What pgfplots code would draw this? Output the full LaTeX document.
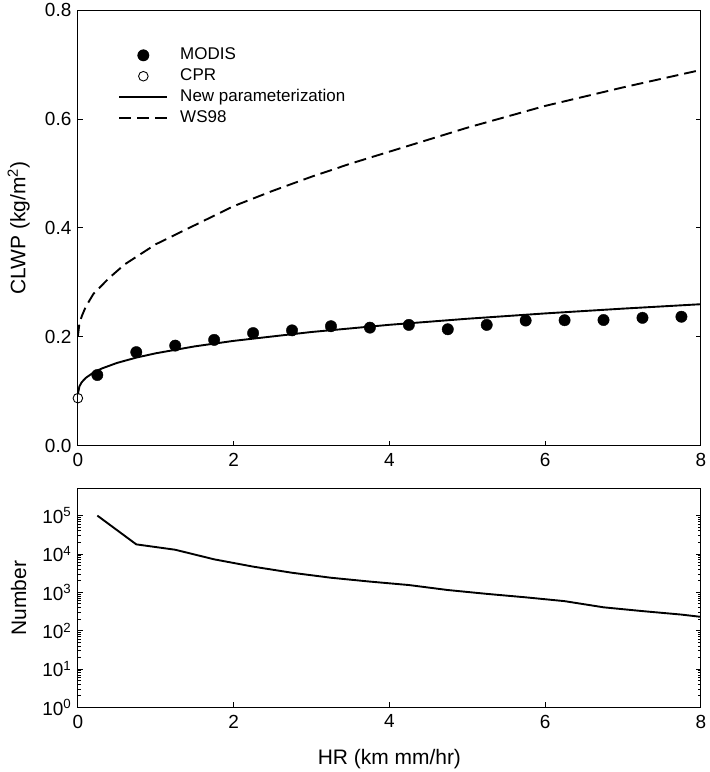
\documentclass[border=0pt]{standalone}
\usepackage{fontspec}
\setmainfont{Liberation Sans}
\usepackage{pgfplots}
\pgfplotsset{compat=1.18}
\pgfplotsset{
  linelegend/.style={legend image code/.code={\draw[##1] (0pt,0pt) -- (48pt,0pt); \path (58pt,0pt);}},
  marklegend/.style={legend image code/.code={\draw[mark repeat=2,mark phase=2,##1] plot coordinates {(0pt,0pt) (24pt,0pt) (48pt,0pt)}; \path (58pt,0pt);}},
}
\newcommand{\legfont}{\fontsize{17}{20}\selectfont}
\newcommand{\tickfont}{\fontsize{19}{22}\selectfont}
\newcommand{\labfont}{\fontsize{21}{25}\selectfont}
\pgfplotsset{
  mybase/.style={
    scale only axis,
    width=624pt,
    xticklabel style={yshift=-4pt},
    yticklabel style={xshift=-3pt},
    xticklabel={\tickfont\pgfmathprintnumber{\tick}},
    axis line style={line width=0.9pt},
    tick style={line width=0.9pt, black},
    major tick length=5pt,
    minor tick length=3pt,
    tick align=inside,
    xmin=0, xmax=8,
    xtick={0,2,4,6,8},
    xtick pos=left,
    /pgf/number format/assume math mode=true,
  },
}
\begin{document}
\begin{tikzpicture}
\begin{axis}[
  mybase,
  name=top,
  at={(0,0)}, anchor=south west,
  height=436.5pt,
  ymin=0, ymax=0.8,
  ytick={0,0.2,0.4,0.6,0.8},
  yticklabels={\tickfont 0.0,\tickfont 0.2,\tickfont 0.4,\tickfont 0.6,\tickfont 0.8},
  ytick pos=both,
  ylabel={\labfont CLWP (kg/m\textsuperscript{2})},
  ylabel style={at={(axis description cs:-0.095,0.5)},anchor=center},
  legend style={at={(0.06,0.925)},anchor=north west,draw=none,fill=none,
    font=\legfont,nodes={text height=12.5pt,text depth=4pt,inner ysep=2.2pt}},
  legend cell align=left,
]
\addplot[only marks, mark=*, mark size=5.7pt, fill=black, marklegend]
  coordinates {
  (0.25,0.130) (0.75,0.172) (1.25,0.184) (1.75,0.1945) (2.25,0.207)
  (2.75,0.212) (3.25,0.2196) (3.75,0.217) (4.25,0.222) (4.75,0.214)
  (5.25,0.222) (5.75,0.230) (6.25,0.2306) (6.75,0.231) (7.25,0.235) (7.75,0.237)
  };
\addlegendentry{MODIS}
\addplot[only marks, mark=o, mark size=4.8pt, line width=0.9pt, marklegend]
  coordinates {(0,0.0875)};
\addlegendentry{CPR}
\addplot[line width=1.9pt, black, linelegend]
  coordinates {
  (0,0.095) (0.02,0.1093) (0.05,0.1169) (0.1,0.1246) (0.2,0.1346) (0.3,0.1416)
  (0.5,0.1521) (0.75,0.162) (1,0.1699) (1.5,0.1826) (2,0.1927) (3,0.209)
  (4,0.2222) (5,0.2333) (6,0.2431) (7,0.2519) (8,0.260)
  };
\addlegendentry{New parameterization}
\addplot[line width=1.9pt, black, dash pattern=on 12pt off 6pt, linelegend]
  coordinates {
  (0,0.2006) (0.02,0.225) (0.05,0.238) (0.1,0.255) (0.2,0.279) (0.4,0.308)
  (0.6,0.333) (1,0.370) (1.5,0.405) (2,0.440) (2.5,0.468) (3,0.494)
  (3.5,0.518) (4,0.540) (5,0.584) (6,0.624) (7,0.658) (8,0.690)
  };
\addlegendentry{WS98}
\end{axis}
\begin{axis}[
  mybase,
  at={(0pt,-43pt)}, anchor=north west,
  height=219pt,
  ymode=log,
  ymin=1, ymax=5e5,
  ytick={1,10,100,1000,10000,100000},
  yticklabels={\tickfont 10\textsuperscript{0},\tickfont 10\textsuperscript{1},\tickfont 10\textsuperscript{2},\tickfont 10\textsuperscript{3},\tickfont 10\textsuperscript{4},\tickfont 10\textsuperscript{5}},
  ytick pos=both,
  ylabel={\labfont Number},
  ylabel style={at={(axis description cs:-0.095,0.5)},anchor=center},
  xlabel={\labfont HR (km mm/hr)},
  xlabel style={at={(axis description cs:0.5,0)},anchor=base,yshift=-57pt},
]
\addplot[line width=1.9pt, black] coordinates {
  (0.25,100000) (0.75,17783) (1.25,12882) (1.75,7244) (2.25,4677) (2.75,3236)
  (3.25,2399) (3.75,1905) (4.25,1549) (4.75,1148) (5.25,912) (5.75,741)
  (6.25,589) (6.75,407) (7.25,324) (7.75,263) (8.25,200)
  };
\end{axis}
\path (-78pt,-326pt) rectangle (631pt,446pt);
\end{tikzpicture}
\end{document}
